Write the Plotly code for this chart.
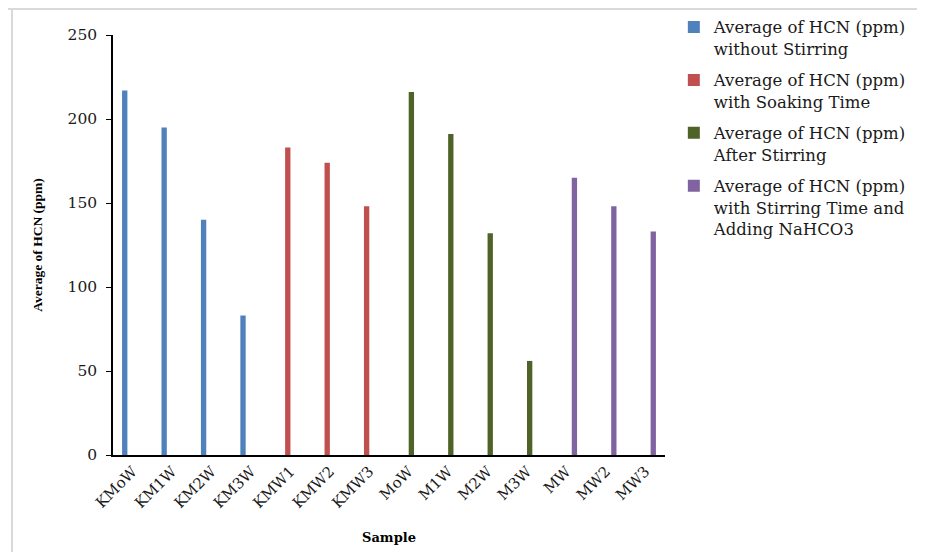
import plotly.graph_objects as go

categories = ["KMoW", "KM1W", "KM2W", "KM3W", "KMW1", "KMW2", "KMW3",
              "MoW", "M1W", "M2W", "M3W", "MW", "MW2", "MW3"]

series_names = [
    "Average of HCN (ppm)<br>without Stirring",
    "Average of HCN (ppm)<br>with Soaking Time",
    "Average of HCN (ppm)<br>After Stirring",
    "Average of HCN (ppm)<br>with Stirring Time and<br>Adding NaHCO3",
]
without_stirring = [217, 195, 140, 83, None, None, None, None, None, None, None, None, None, None]
soaking_time = [None, None, None, None, 183, 174, 148, None, None, None, None, None, None, None]
after_stirring = [None, None, None, None, None, None, None, 216, 191, 132, 56, None, None, None]
stirring_nahco3 = [None, None, None, None, None, None, None, None, None, None, None, 165, 148, 133]
colors = ["#4F81BD", "#C0504D", "#4F6228", "#8064A2"]

wide = "DejaVu Serif, serif"
narrow = "Liberation Serif, Times New Roman, serif"

fig = go.Figure()
for i, (name, vals) in enumerate(zip(series_names,
                                     [without_stirring, soaking_time, after_stirring, stirring_nahco3])):
    fig.add_trace(go.Bar(x=categories, y=vals, name=name, marker_color=colors[i],
                         marker_line_width=0, legendgroup=f"g{i}"))

fig.update_layout(
    width=917, height=544,
    barmode="group", bargap=0.46, bargroupgap=0,
    margin=dict(l=105, r=260, t=27, b=97, autoexpand=False),
    paper_bgcolor="white", plot_bgcolor="white",
    font=dict(family=wide, color="#1a1a1a", size=15),
    showlegend=True,
    legend=dict(x=1.016, y=1.06, xanchor="left", yanchor="top", valign="top",
                font=dict(family=wide, size=16.5, color="#1a1a1a"),
                tracegroupgap=7, traceorder="grouped",
                itemwidth=30, bgcolor="rgba(0,0,0,0)"),
    xaxis=dict(
        type="category", tickangle=-45, showline=True, linecolor="black", linewidth=1.5,
        ticks="", tickfont=dict(family=wide, size=15, color="#1a1a1a"),
        title=dict(text="<b>Sample</b>", font=dict(family=wide, size=13, color="black"), standoff=22),
    ),
    yaxis=dict(
        range=[0, 250], dtick=50, showline=True, linecolor="black", linewidth=1.5,
        ticks="outside", ticklen=5, tickcolor="black", showgrid=False, zeroline=False,
        ticklabelstandoff=6,
        tickfont=dict(family=wide, size=15.5, color="#1a1a1a"),
        title=dict(text="<b>Average of HCN (ppm)</b>", font=dict(family=narrow, size=13.5, color="black"), standoff=22),
    ),
    shapes=[
        dict(type="line", xref="paper", yref="paper", x0=-0.2, x1=1.6, y0=1.062, y1=1.062,
             line=dict(color="#d9d9d9", width=2)),
        dict(type="line", xref="paper", yref="paper", x0=-0.183, x1=-0.183, y0=1.062, y1=-0.3,
             line=dict(color="#d9d9d9", width=2)),
    ],
)

fig.write_html("out.html")
